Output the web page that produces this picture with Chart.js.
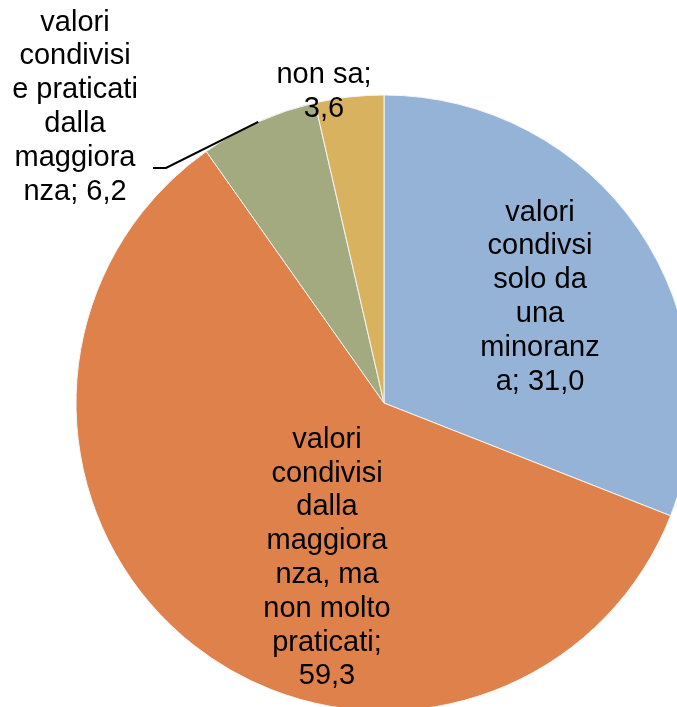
<!DOCTYPE html>
<html>
<head>
<meta charset="utf-8">
<script src="https://cdn.jsdelivr.net/npm/chart.js@4"></script>
<style>
    html, body { margin: 0; padding: 0; background: #fff; overflow: hidden; }
    #wrap { position: relative; width: 677px; height: 707px; }
</style>
</head>
<body>
<div id="wrap"><canvas id="pieChart"></canvas></div>
<script>
// Data
const categories = [
    'valori condivsi solo da una minoranza',
    'valori condivisi dalla maggioranza, ma non molto praticati',
    'valori condivisi e praticati dalla maggioranza',
    'non sa'
];
const values = [31.0, 59.3, 6.2, 3.6];
const sliceColors = ['#95B3D7', '#DF814A', '#A3AA80', '#D9B25F'];

// How the labels are wrapped in the picture
const labelLines = [
    ['valori', 'condivsi', 'solo da', 'una', 'minoranz', 'a; 31,0'],
    ['valori', 'condivisi', 'dalla', 'maggiora', 'nza, ma', 'non molto', 'praticati;', '59,3'],
    ['valori', 'condivisi', 'e praticati', 'dalla', 'maggiora', 'nza; 6,2'],
    ['non sa;', '3,6']
];

// label block centre, relative to pie centre
const labelOffsets = [[156, -106], [-57, 155], [-309, -296], [-60, -311]];

const pieLabels = {
    id: 'pieLabels',
    afterDatasetsDraw(chart) {
        const ctx = chart.ctx;
        const arcs = chart.getDatasetMeta(0).data;
        const cx = arcs[0].x, cy = arcs[0].y;
        ctx.save();
        ctx.font = '29px "Liberation Sans", Arial, sans-serif';
        ctx.fillStyle = '#000';
        ctx.textAlign = 'center';
        ctx.textBaseline = 'middle';
        const lh = 33.8;
        labelLines.forEach((lines, i) => {
            const x = cx + labelOffsets[i][0];
            const y0 = cy + labelOffsets[i][1] - (lines.length - 1) * lh / 2;
            lines.forEach((t, j) => ctx.fillText(t, x, y0 + j * lh));
        });

        // leader line for the small green slice
        const a = arcs[2];
        const mid = (a.startAngle + a.endAngle) / 2;
        const ex = cx + Math.cos(mid) * a.outerRadius;
        const ey = cy + Math.sin(mid) * a.outerRadius;
        ctx.beginPath();
        ctx.strokeStyle = '#000';
        ctx.lineWidth = 2;
        ctx.moveTo(ex, ey);
        ctx.lineTo(cx - 218, cy - 235);
        ctx.lineTo(cx - 231, cy - 235);
        ctx.stroke();
        ctx.restore();
    }
};

new Chart(document.getElementById('pieChart'), {
    type: 'pie',
    data: {
        labels: categories,
        datasets: [{
            data: values,
            backgroundColor: sliceColors,
            borderColor: '#F4F4F4',
            borderWidth: 1,
            clip: false
        }]
    },
    options: {
        responsive: true,
        maintainAspectRatio: false,
        animation: false,
        radius: 308,
        layout: { padding: { left: 91, right: 0, top: 99, bottom: 0 } },
        plugins: {
            legend: { display: false },
            tooltip: { enabled: false }
        }
    },
    plugins: [pieLabels]
});
</script>
</body>
</html>
